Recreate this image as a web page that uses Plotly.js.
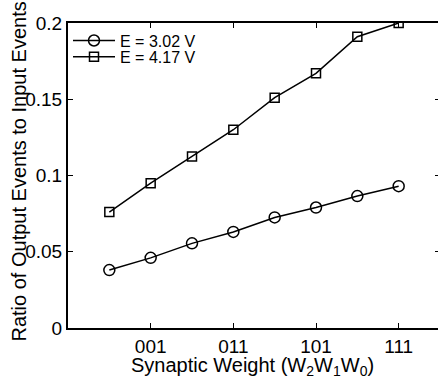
<!DOCTYPE html>
<html>
<head>
<meta charset="utf-8">
<script src="https://cdn.plot.ly/plotly-3.0.1.min.js"></script>
<style>html,body{margin:0;padding:0;overflow:hidden;width:438px;height:381px;background:#fff}</style>
</head>
<body>
<div id="chart"></div>
<script>
const weights = ["000","001","010","011","100","101","110","111"];
const xIndex = [0,1,2,3,4,5,6,7];
const tickVals = [1,3,5,7];
const tickText = ["001","011","101","111"];
const yTickVals = [0,0.05,0.1,0.15,0.2];
const yTickText = ["0","0.05","0.1","0.15","0.2"];
const ratioLow = [0.038,0.046,0.0555,0.063,0.0725,0.079,0.0865,0.093];
const ratioHigh = [0.076,0.095,0.1125,0.130,0.151,0.167,0.191,0.200];
const nameLow = "E = 3.02 V";
const nameHigh = "E = 4.17 V";
const xTitle = "Synaptic Weight (W<sub>2</sub>W<sub>1</sub>W<sub>0</sub>)";
const yTitle = "Ratio of Output Events to Input Events";

const font = "Liberation Sans, Arial, sans-serif";
const traces = [
  {x: xIndex, y: ratioLow, name: nameLow, mode: "lines+markers", type: "scatter", legend: "legend",
   line: {color: "#000", width: 1.5},
   marker: {symbol: "circle-open", size: 11, color: "#000", line: {width: 1.5, color: "#000"}}},
  {x: xIndex, y: ratioHigh, name: nameHigh, mode: "lines+markers", type: "scatter", legend: "legend2",
   line: {color: "#000", width: 1.5},
   marker: {symbol: "square-open", size: 9, color: "#000", line: {width: 1.5, color: "#000"}}}
];
const legendBase = {xanchor: "left", yanchor: "top", bgcolor: "rgba(0,0,0,0)",
  font: {size: 16, family: font, color: "#000"}, itemwidth: 42};
const layout = {
  width: 441, height: 381,
  margin: {l: 68, r: 1, t: 23, b: 53},
  paper_bgcolor: "#fff", plot_bgcolor: "#fff",
  font: {family: font, color: "#000", size: 19},
  showlegend: true,
  legend: Object.assign({x: 0.0, y: 0.998}, legendBase),
  legend2: Object.assign({x: 0.0, y: 0.945}, legendBase),
  xaxis: {range: [-1, 8], tickvals: tickVals, ticktext: tickText, ticks: "inside", ticklen: 5,
          tickwidth: 1, tickcolor: "#000", showline: true, linecolor: "#000", linewidth: 2,
          mirror: "ticks", showgrid: false, zeroline: false,
          tickfont: {size: 19, family: font}},
  yaxis: {range: [0, 0.2], tickvals: yTickVals, ticktext: yTickText,
          ticks: "inside", ticklen: 5, tickwidth: 1, tickcolor: "#000",
          showline: true, linecolor: "#000", linewidth: 2, mirror: "ticks",
          showgrid: false, zeroline: false, tickfont: {size: 19, family: font}},
  annotations: [
    {text: yTitle, textangle: -90, xref: "paper", yref: "paper", x: 0, y: 0.5,
     xanchor: "center", yanchor: "middle", xshift: -50, yshift: 4, showarrow: false,
     font: {size: 20, family: font, color: "#000"}},
    {text: xTitle, xref: "paper", yref: "paper", x: 0.5, y: 0,
     xanchor: "center", yanchor: "top", xshift: -2, yshift: -24, showarrow: false,
     font: {size: 20, family: font, color: "#000"}}
  ]
};
Plotly.newPlot("chart", traces, layout, {displayModeBar: false, staticPlot: true});
</script>
</body>
</html>
